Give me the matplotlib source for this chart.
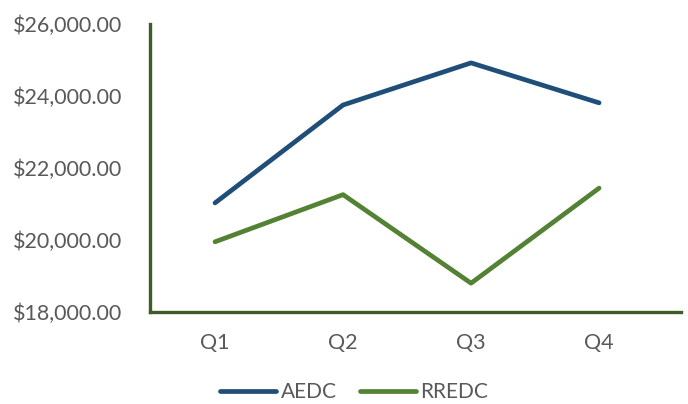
import matplotlib
matplotlib.use("Agg")
import matplotlib.pyplot as plt
from matplotlib.ticker import FuncFormatter

quarters = ["Q1", "Q2", "Q3", "Q4"]
aedc = [21030, 23750, 24920, 23810]
rredc = [19950, 21260, 18800, 21440]

plt.rcParams['font.family'] = ['Lato', 'DejaVu Sans']

fig = plt.figure(figsize=(6.88, 4.04), dpi=100)
ax = fig.add_axes([150 / 688, 1 - 312 / 404, 531 / 688, 288 / 404])

x = list(range(len(quarters)))
ax.plot(x, aedc, color="#1F4E79", lw=3.4, solid_capstyle="round", solid_joinstyle="round", label="AEDC")
ax.plot(x, rredc, color="#548235", lw=3.4, solid_capstyle="round", solid_joinstyle="round", label="RREDC")

ax.set_ylim(18000, 26000)
ax.set_yticks([18000, 20000, 22000, 24000, 26000])
ax.yaxis.set_major_formatter(FuncFormatter(lambda v, p: f"${v:,.2f}"))
ax.set_xlim(-0.508, 3.64)
ax.set_xticks(x)
ax.set_xticklabels(quarters)

for s in ["top", "right"]:
    ax.spines[s].set_visible(False)
for s in ["left", "bottom"]:
    ax.spines[s].set_color("#3D5C27")
    ax.spines[s].set_linewidth(2.4)

ax.tick_params(axis="both", length=0, labelsize=15.5, labelcolor="#595959")
ax.tick_params(axis="y", pad=20)
ax.tick_params(axis="x", pad=15)

fig.legend(loc="center", bbox_to_anchor=(354 / 688, 1 - 392 / 404), ncol=2, frameon=False,
           fontsize=15, labelcolor="#595959", handlelength=2.7, columnspacing=1.1,
           handletextpad=0.2)

fig.savefig("out.png", dpi=100)
